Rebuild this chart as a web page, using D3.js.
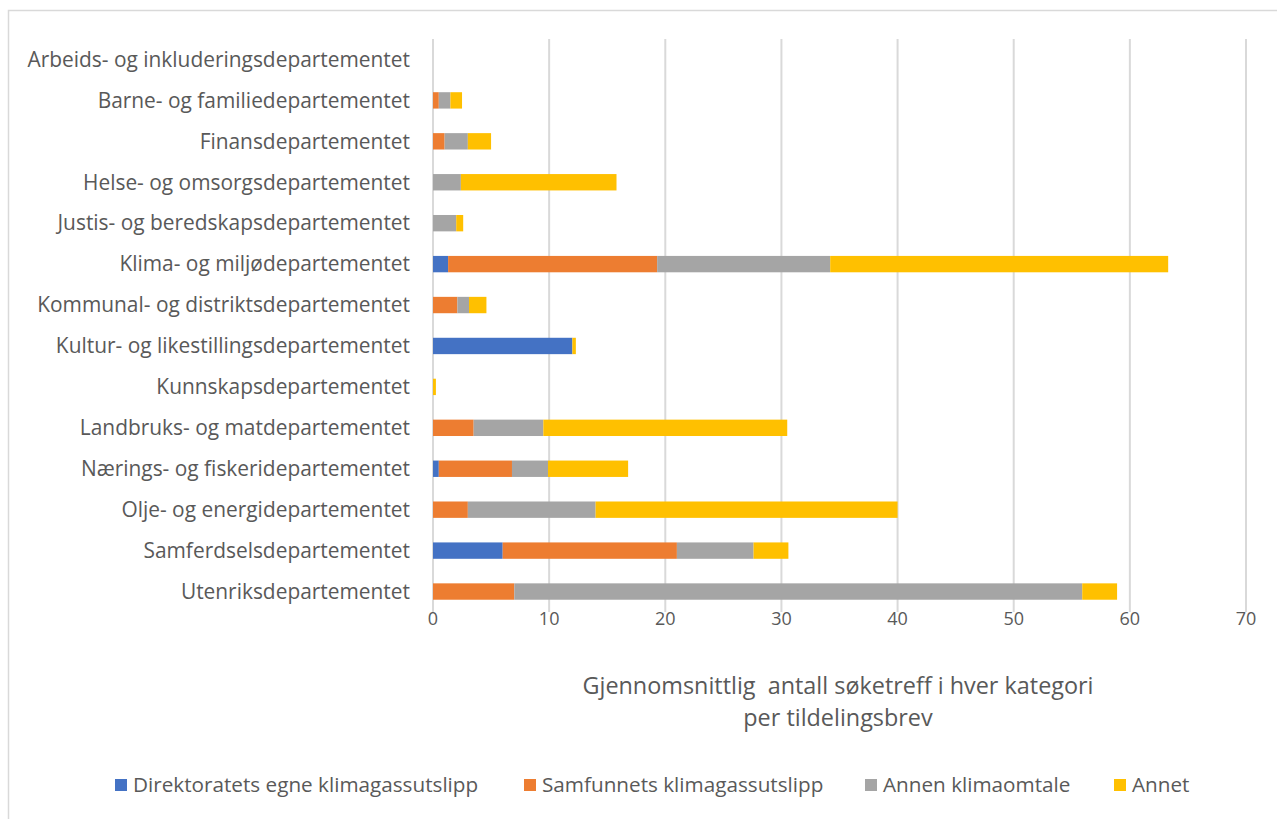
<!DOCTYPE html>
<html>
<head>
<meta charset="utf-8">
<script src="https://cdnjs.cloudflare.com/ajax/libs/d3/7.8.5/d3.min.js"></script>
<style>
body { margin: 0; background: #fff; }
text { font-family: "Open Sans", sans-serif; fill: #595959; white-space: pre; }
</style>
</head>
<body>
<div id="viz"></div>
<script>
// departementer, top to bottom
var categories = [
	"Arbeids- og inkluderingsdepartementet",
	"Barne- og familiedepartementet",
	"Finansdepartementet",
	"Helse- og omsorgsdepartementet",
	"Justis- og beredskapsdepartementet",
	"Klima- og miljødepartementet",
	"Kommunal- og distriktsdepartementet",
	"Kultur- og likestillingsdepartementet",
	"Kunnskapsdepartementet",
	"Landbruks- og matdepartementet",
	"Nærings- og fiskeridepartementet",
	"Olje- og energidepartementet",
	"Samferdselsdepartementet",
	"Utenriksdepartementet"
];

var seriesNames = ["Direktoratets egne klimagassutslipp", "Samfunnets klimagassutslipp", "Annen klimaomtale", "Annet"];
var colors = ["#4472C4", "#ED7D31", "#A5A5A5", "#FFC000"];

var egne      = [0, 0,   0, 0,    0,   1.3, 0,   12,  0,    0,   0.5, 0,  6,    0];
var samfunnet = [0, 0.5, 1, 0,    0,   18,  2.1, 0,   0,    3.5, 6.3, 3,  15,   7];
var annen     = [0, 1.0, 2, 2.4,  2,   14.9,1.0, 0,   0,    6,   3.1, 11, 6.6,  48.9];
var annet     = [0, 1.0, 2, 13.4, 0.6, 29.1,1.5, 0.3, 0.25, 21,  6.9, 26, 3.0,  3.0];

var xTicks = [0, 10, 20, 30, 40, 50, 60, 70];

var rows = categories.map(function(c, i){
	return {cat: c, s0: egne[i], s1: samfunnet[i], s2: annen[i], s3: annet[i]};
});

var W = 1277, H = 819;
var svg = d3.select("#viz").append("svg")
	.attr("width", W)
	.attr("height", H);

// chart border
svg.append("rect")
	.attr("x", 8.5).attr("y", 10.5)
	.attr("width", W + 20).attr("height", H + 20)
	.attr("fill", "none")
	.attr("stroke", "#d9d9d9")
	.attr("stroke-width", 1.5);

var x = d3.scaleLinear().domain([0, 70]).range([433, 1246]);
var y = d3.scaleBand().domain(categories).range([39, 612]).paddingInner(0.6).paddingOuter(0.3);

// gridlines
svg.append("g").selectAll("line")
	.data(xTicks)
	.enter().append("line")
	.attr("x1", function(d){ return x(d); })
	.attr("x2", function(d){ return x(d); })
	.attr("y1", 39).attr("y2", 612)
	.attr("stroke", "#d9d9d9")
	.attr("stroke-width", 2);

var stack = d3.stack().keys(["s0", "s1", "s2", "s3"]);
var layers = stack(rows);

svg.append("g").selectAll("g")
	.data(layers)
	.enter().append("g")
	.attr("fill", function(d, i){ return colors[i]; })
	.selectAll("rect")
	.data(function(d){ return d; })
	.enter().append("rect")
	.attr("x", function(d){ return x(d[0]); })
	.attr("width", function(d){ return x(d[1]) - x(d[0]); })
	.attr("y", function(d){ return y(d.data.cat); })
	.attr("height", y.bandwidth());

// category labels
svg.append("g").selectAll("text")
	.data(categories)
	.enter().append("text")
	.attr("x", 410)
	.attr("y", function(d){ return y(d) + y.bandwidth() / 2; })
	.attr("dy", "0.35em")
	.attr("text-anchor", "end")
	.style("font-size", "20.9px")
	.text(function(d){ return d; });

// x tick labels
svg.append("g").selectAll("text")
	.data(xTicks)
	.enter().append("text")
	.attr("x", function(d){ return x(d); })
	.attr("y", 619)
	.attr("dy", "0.35em")
	.attr("text-anchor", "middle")
	.style("font-size", "18px")
	.text(function(d){ return d; });

// axis title
var title = svg.append("text")
	.attr("text-anchor", "middle")
	.style("font-size", "23.4px");
title.append("tspan").attr("x", 838).attr("y", 694).text("Gjennomsnittlig  antall søketreff i hver kategori");
title.append("tspan").attr("x", 838).attr("y", 726).text("per tildelingsbrev");

// legend
var legendX = [115, 524, 865, 1114];
var lg = svg.append("g").selectAll("g")
	.data(seriesNames)
	.enter().append("g")
	.attr("transform", function(d, i){ return "translate(" + legendX[i] + ",785)"; });
lg.append("rect")
	.attr("x", 0).attr("y", -6)
	.attr("width", 12).attr("height", 12)
	.attr("fill", function(d, i){ return colors[i]; });
lg.append("text")
	.attr("x", 18)
	.attr("dy", "0.35em")
	.style("font-size", "20.7px")
	.text(function(d){ return d; });
</script>
</body>
</html>
